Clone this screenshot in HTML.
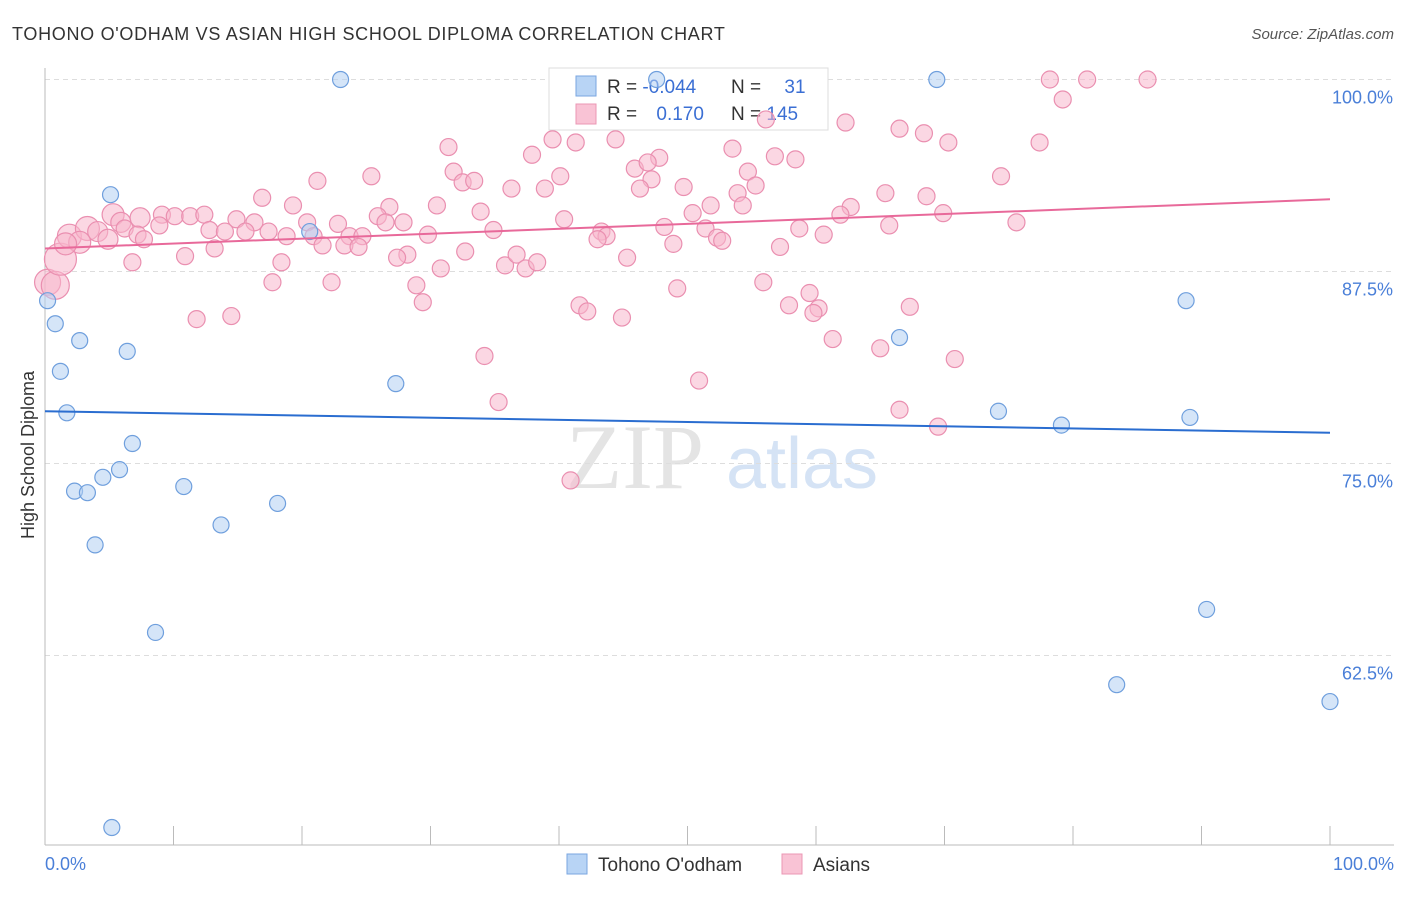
<!DOCTYPE html>
<html><head><meta charset="utf-8"><style>
body{margin:0;background:#fff;font-family:"Liberation Sans",sans-serif;}
</style></head><body>
<svg id="chart" width="1406" height="892" xmlns="http://www.w3.org/2000/svg" font-family="Liberation Sans, sans-serif">
<text x="12" y="40" font-size="18" fill="#333" letter-spacing="0.7">TOHONO O'ODHAM VS ASIAN HIGH SCHOOL DIPLOMA CORRELATION CHART</text>
<text x="1394" y="39" font-size="15" fill="#555" text-anchor="end" font-style="italic">Source: ZipAtlas.com</text>
<g>
<text x="635" y="488" font-size="92" fill="#e4e4e4" text-anchor="middle" font-family="Liberation Serif, serif">ZIP</text>
<text x="802" y="488" font-size="72" fill="#d5e3f5" text-anchor="middle">atlas</text>
</g>
<g id="grid"></g><g id="axes"></g>
<g>
<rect x="549" y="68" width="279" height="62" fill="#fff" stroke="#ddd"/>
<rect x="576" y="76" width="20" height="20" fill="#b8d4f5" stroke="#7aa6e0"/>
<rect x="576" y="104" width="20" height="20" fill="#f9c3d5" stroke="#eb97b4"/>
<text x="607" y="93" font-size="19" fill="#333">R = <tspan fill="#3b6fd4">-0.044</tspan></text>
<text x="731" y="93" font-size="19" fill="#333">N = <tspan fill="#3b6fd4" dx="18">31</tspan></text>
<text x="607" y="120" font-size="19" fill="#333">R = <tspan fill="#3b6fd4" dx="14">0.170</tspan></text>
<text x="731" y="120" font-size="19" fill="#333">N = <tspan fill="#3b6fd4">145</tspan></text>
</g>
<g id="marks"></g>
<text transform="translate(34,455) rotate(-90)" font-size="18" fill="#333" text-anchor="middle">High School Diploma</text>
<g>
<rect x="567" y="854" width="20" height="20" fill="#b8d4f5" stroke="#7aa6e0"/>
<text x="598" y="871" font-size="19" fill="#333">Tohono O'odham</text>
<rect x="782" y="854" width="20" height="20" fill="#f9c3d5" stroke="#eb97b4"/>
<text x="813" y="871" font-size="19" fill="#333">Asians</text>
</g>
</svg>
<script>
const yTicks=[100,87.5,75,62.5];
const yTickLabels=["100.0%","87.5%","75.0%","62.5%"];
const xTickLabels=["0.0%","100.0%"];
const blueX=[23.0,47.6,69.4,5.1,0.2,0.8,2.7,6.4,1.2,1.7,27.3,6.8,5.8,4.5,2.3,3.3,10.8,18.1,13.7,3.9,8.6,5.2,88.8,66.5,74.2,79.1,89.1,90.4,83.4,100,20.6];
const blueY=[100,100,100,92.5,85.6,84.1,83.0,82.3,81.0,78.3,80.2,76.3,74.6,74.1,73.2,73.1,73.5,72.4,71.0,69.7,64.0,51.3,85.6,83.2,78.4,77.5,78.0,65.5,60.6,59.5,90.1];
const pinkX=[78.2,81.1,85.8,79.2,56.1,62.3,66.5,68.4,70.3,77.4,39.5,44.4,41.3,31.4,37.9,47.8,53.5,56.8,58.4,45.9,46.9,54.7,31.8,32.5,33.4,21.2,25.4,40.1,47.2,46.3,38.9,36.3,49.7,53.9,55.3,65.4,68.6,74.4,16.9,19.3,26.8,30.5,33.9,40.4,50.4,51.8,54.3,62.7,61.9,69.9,75.6,9.1,10.1,11.3,12.4,14.9,16.3,20.4,22.8,25.9,26.5,27.9,8.9,12.8,6.2,7.2,7.7,14.0,15.6,17.4,18.8,20.9,23.7,24.7,23.3,24.4,21.6,29.8,34.9,43.3,43.7,43.0,48.9,48.2,51.4,52.3,52.7,58.7,60.6,65.7,13.2,10.9,6.8,18.4,17.7,22.3,28.2,27.4,32.7,30.8,35.8,36.7,37.4,38.3,45.3,57.2,28.9,29.4,41.6,42.2,49.2,55.9,59.5,57.9,60.2,59.8,67.3,11.8,14.5,44.9,61.3,65.0,70.8,34.2,50.9,35.3,66.5,69.5,40.9];
const pinkY=[100,100,100,98.7,97.4,97.2,96.8,96.5,95.9,95.9,96.1,96.1,95.9,95.6,95.1,94.9,95.5,95.0,94.8,94.2,94.6,94.0,94.0,93.3,93.4,93.4,93.7,93.7,93.5,92.9,92.9,92.9,93.0,92.6,93.1,92.6,92.4,93.7,92.3,91.8,91.7,91.8,91.4,90.9,91.3,91.8,91.8,91.7,91.2,91.3,90.7,91.2,91.1,91.1,91.2,90.9,90.7,90.7,90.6,91.1,90.7,90.7,90.5,90.2,90.3,89.9,89.6,90.1,90.1,90.1,89.8,89.8,89.8,89.8,89.2,89.1,89.2,89.9,90.2,90.1,89.8,89.6,89.3,90.4,90.3,89.7,89.5,90.3,89.9,90.5,89.0,88.5,88.1,88.1,86.8,86.8,88.6,88.4,88.8,87.7,87.9,88.6,87.7,88.1,88.4,89.1,86.6,85.5,85.3,84.9,86.4,86.8,86.1,85.3,85.1,84.8,85.2,84.4,84.6,84.5,83.1,82.5,81.8,82.0,80.4,79.0,78.5,77.4,73.9];
const pinkBigX=[0.2,0.8,1.2,1.9,3.3,4.1,2.7,4.9,5.3,5.9,7.4,1.6];
const pinkBigY=[86.8,86.6,88.3,89.8,90.3,90.1,89.4,89.6,91.2,90.7,91.0,89.3];
const pinkBigN=[13,14,16,12,12,10,11,10,11,10,10,11];
const blueTrend=[78.4,77.0];
const pinkTrend=[89.0,92.2];

const NS="http://www.w3.org/2000/svg";
const X=v=>45+v*12.85;
const Y=v=>79.5+(100-v)*15.36;
function mk(t,a,p){const e=document.createElementNS(NS,t);for(const k in a)e.setAttribute(k,a[k]);p.appendChild(e);return e;}
const grid=document.getElementById('grid'),axes=document.getElementById('axes'),marks=document.getElementById('marks');
yTicks.forEach((t,i)=>{
 const l=mk('line',{x1:45,x2:1394,y1:Y(t),y2:Y(t),stroke:'#ddd','stroke-dasharray':'5,4'},grid);
 
 
 const tx=mk('text',{x:1393,y:Y(t)+24,'font-size':18,fill:'#4a7fd8','text-anchor':'end'},axes);tx.textContent=yTickLabels[i];
 
 
});
mk('line',{x1:45,x2:45,y1:68,y2:845,stroke:'#bbb'},axes);
mk('line',{x1:45,x2:1394,y1:845,y2:845,stroke:'#bbb'},axes);
for(let i=0;i<=10;i++){mk('line',{x1:X(i*10),x2:X(i*10),y1:826,y2:845,stroke:'#bbb'},axes);}
[[0,'start',45],[1,'end',1394]].forEach(([i,a,x])=>{const t=mk('text',{x:x,y:870,'font-size':18,fill:'#4a7fd8','text-anchor':a},axes);t.textContent=xTickLabels[i];
 
 });
function dot(x,y,r,f,s,nm){const c=mk('circle',{cx:X(x),cy:Y(y),r:r,fill:f,'fill-opacity':0.55,stroke:s,'stroke-width':1.2},marks);
 
 }
pinkBigX.forEach((x,i)=>dot(x,pinkBigY[i],pinkBigN[i],'#f7b6cc','#ea8fb0','asians-point'));
pinkX.forEach((x,i)=>dot(x,pinkY[i],8.5,'#f7b6cc','#ea8fb0','asians-point'));
blueX.forEach((x,i)=>dot(x,blueY[i],8,'#b3d0f3','#6f9fdd','tohono-point'));
const bl=mk('line',{x1:X(0),x2:X(100),y1:Y(blueTrend[0]),y2:Y(blueTrend[1]),stroke:'#2a6dd0','stroke-width':2},marks);


const pl=mk('line',{x1:X(0),x2:X(100),y1:Y(pinkTrend[0]),y2:Y(pinkTrend[1]),stroke:'#e8699a','stroke-width':2},marks);


</script>
</body></html>
